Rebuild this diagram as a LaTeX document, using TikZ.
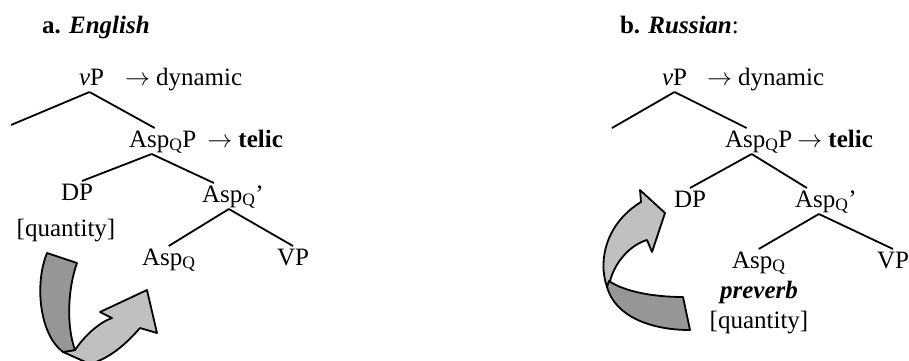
\documentclass[tikz,border=0pt]{standalone}
\usepackage{fontspec}
\setmainfont{Liberation Serif}
\usetikzlibrary{positioning}
\definecolor{band}{HTML}{969696}
\definecolor{sheet}{HTML}{C0C0C0}
\tikzset{
  lbl/.style={inner sep=0pt,outer sep=2pt,text height=17pt,text depth=5pt},
  branch/.style={line width=1.8pt},
  curl/.style={draw=black,line width=1.8pt,line join=round},
}
\begin{document}
\begin{tikzpicture}[x=1pt,y=-1pt,font=\fontsize{25}{30}\selectfont]
    \useasboundingbox (0,0) rectangle (909,360);
    % a. English
    \node[lbl,anchor=base west] (ttlA) at (40,33) {\textbf{a. \textit{English}}};
    \node[lbl,anchor=base west] (vPa) at (77,85) {\textit{v}P};
    \node[lbl,right=17pt of vPa] (dynA) {$\rightarrow$ dynamic};
    \node[lbl,anchor=base west] (aspPa) at (127,147) {Asp\textsubscript{Q}P};
    \node[lbl,right=7pt of aspPa] (telA) {$\rightarrow$ \textbf{telic}};
    \node[lbl,anchor=base] (dpA) at (77,200) {DP};
    \node[lbl,anchor=base] (qtyA) at (66,236) {[quantity]};
    \node[lbl,anchor=base west] (barA) at (200,202) {Asp\textsubscript{Q}’};
    \node[lbl,anchor=base west] (headA) at (140,265) {Asp\textsubscript{Q}};
    \node[lbl,anchor=base west] (vpA) at (275,265) {VP};
    \coordinate (specA) at (11,125);
    \draw[branch] ([xshift=-2pt]vPa.south) -- (specA);
    \draw[branch] ([xshift=-2pt]vPa.south) -- ([xshift=-8pt]aspPa.north);
    \draw[branch] ([xshift=-11pt]aspPa.south) -- ([xshift=5pt]dpA.north);
    \draw[branch] ([xshift=-11pt]aspPa.south) -- ([xshift=-19pt]barA.north);
    \draw[branch] ([xshift=-4pt]barA.south) -- (headA.north);
    \draw[branch] ([xshift=-4pt]barA.south) -- (vpA.north);
    % movement arrow, English
    \filldraw[curl,fill=sheet] (75,350) .. controls (85,335) and (100,322) .. (112,318)
      -- (100,312) -- (147,290) -- (157,333) -- (140,328)
      .. controls (125,345) and (110,358) .. (90,364) -- (63,352) -- cycle;
    \filldraw[curl,fill=band] (47,253) -- (77,263) .. controls (68,288) and (66,325) .. (75,350)
      -- (63,352) .. controls (40,335) and (34,285) .. (47,253) -- cycle;
    % b. Russian
    \node[lbl,anchor=base west] (ttlB) at (618,33) {\textbf{b. \textit{Russian}}:};
    \node[lbl,anchor=base west] (vPb) at (660,85) {\textit{v}P};
    \node[lbl,right=16pt of vPb] (dynB) {$\rightarrow$ dynamic};
    \node[lbl,anchor=base west] (aspPb) at (723,147) {Asp\textsubscript{Q}P};
    \node[lbl,right=1pt of aspPb] (telB) {$\rightarrow$ \textbf{telic}};
    \node[lbl,anchor=base west] (dpB) at (672,207) {DP};
    \node[lbl,anchor=base west] (barB) at (793,207) {Asp\textsubscript{Q}’};
    \node[lbl,anchor=base west] (headB) at (730,268) {Asp\textsubscript{Q}};
    \node[lbl,anchor=base west] (vpB) at (875,268) {VP};
    \node[lbl,anchor=base] (prvB) at (759,298) {\textbf{\textit{preverb}}};
    \node[lbl,anchor=base] (qtyB) at (759,328) {[quantity]};
    \coordinate (specB) at (612,128);
    \draw[branch] (vPb.south) -- (specB);
    \draw[branch] (vPb.south) -- ([xshift=-12pt]aspPb.north);
    \draw[branch] ([xshift=-7pt]aspPb.south) -- (dpB.north);
    \draw[branch] ([xshift=-7pt]aspPb.south) -- ([xshift=-19pt]barB.north);
    \draw[branch] ([xshift=-7pt]barB.south) -- (headB.north);
    \draw[branch] ([xshift=-7pt]barB.south) -- (vpB.north);
    % movement arrow, Russian
    \filldraw[curl,fill=sheet] (640,190) -- (665,213) -- (652,252) -- (647,240)
      .. controls (630,245) and (615,262) .. (610,281) -- (607,287)
      .. controls (597,258) and (608,222) .. (641,202) -- cycle;
    \filldraw[curl,fill=band] (609,281) .. controls (625,292) and (655,297) .. (683,297)
      -- (690,330) .. controls (650,330) and (615,316) .. (607,287) -- cycle;
  \end{tikzpicture}
\end{document}
